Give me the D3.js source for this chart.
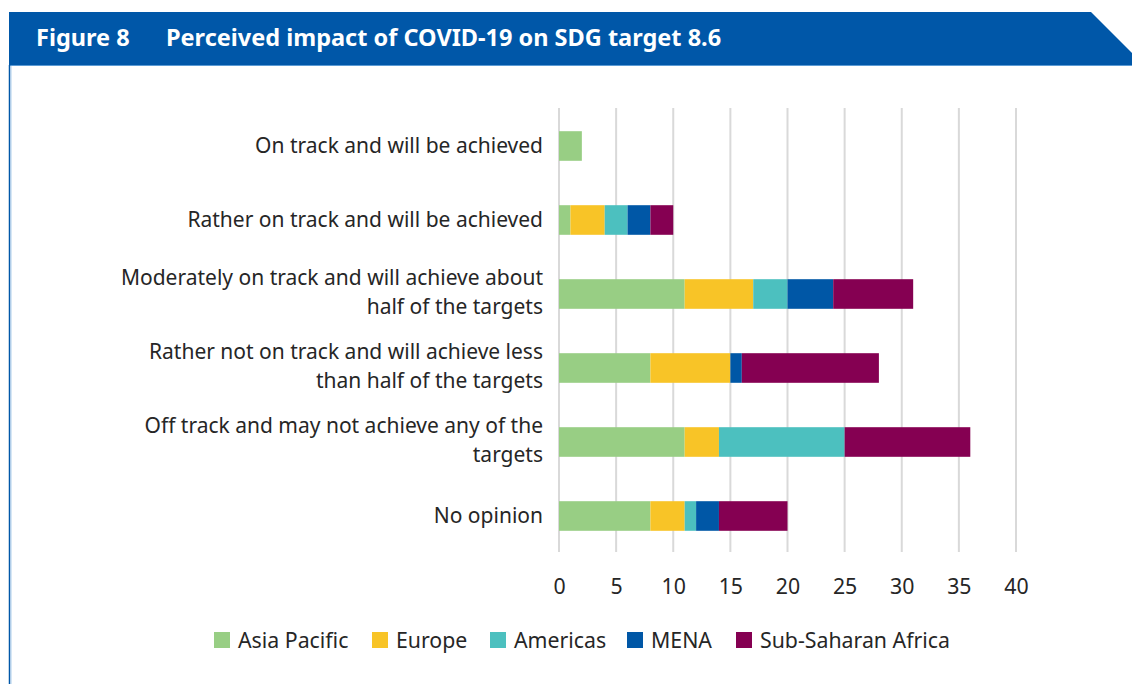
<!DOCTYPE html>
<html><head><meta charset="utf-8">
<script src="https://cdn.jsdelivr.net/npm/d3@7"></script>
<style>
body{margin:0;background:#fff;}
svg{display:block;font-family:"Noto Sans","Open Sans",sans-serif;}
</style></head>
<body><svg id="c" width="1132" height="684"></svg>
<script>
const categories = [
  ["On track and will be achieved"],
  ["Rather on track and will be achieved"],
  ["Moderately on track and will achieve about", "half of the targets"],
  ["Rather not on track and will achieve less", "than half of the targets"],
  ["Off track and may not achieve any of the", "targets"],
  ["No opinion"]
];
const seriesNames = ["Asia Pacific", "Europe", "Americas", "MENA", "Sub-Saharan Africa"];
const asiaPacific = [2, 1, 11, 8, 11, 8];
const europe      = [0, 3, 6, 7, 3, 3];
const americas    = [0, 2, 3, 0, 11, 1];
const mena        = [0, 2, 4, 1, 0, 2];
const ssa         = [0, 2, 7, 12, 11, 6];
const tickValues  = [0, 5, 10, 15, 20, 25, 30, 35, 40];
const colors = ["#98CE84", "#F8C427", "#4CC0BF", "#0057A6", "#850052"];

const svg = d3.select("#c");
const W = 1132, H = 684;

// header
svg.append("path")
  .attr("d", `M9,12 L1091,12 L1132,53 L1132,65 L9,65 Z`)
  .attr("fill", "#0057A8");
svg.append("line").attr("x1", 9).attr("x2", 1132).attr("y1", 65.5).attr("y2", 65.5)
  .attr("stroke", "#5b9bd5").attr("stroke-width", 1);
svg.append("line").attr("x1", 9.5).attr("x2", 9.5).attr("y1", 65).attr("y2", H)
  .attr("stroke", "#0057A8").attr("stroke-width", 1.5);
svg.append("line").attr("x1", 11).attr("x2", 11).attr("y1", 66).attr("y2", H)
  .attr("stroke", "#9cc3e6").attr("stroke-width", 0.8);
svg.append("text").attr("x", 36).attr("y", 46).attr("fill", "#fff")
  .attr("font-size", 23.5).attr("font-weight", "bold").text("Figure 8");
svg.append("text").attr("x", 166).attr("y", 46).attr("fill", "#fff")
  .attr("font-size", 23.5).attr("font-weight", "bold").text("Perceived impact of COVID-19 on SDG target 8.6");

// scales
const x = d3.scaleLinear().domain([0, 40]).range([559, 1016]);
const y = d3.scaleBand().domain(d3.range(categories.length)).range([109, 553]).paddingInner(0.6).paddingOuter(0.3);

// grid
svg.append("g").selectAll("line").data(tickValues).join("line")
  .attr("x1", d => x(d)).attr("x2", d => x(d))
  .attr("y1", 108).attr("y2", 552)
  .attr("stroke", "#d9d9d9").attr("stroke-width", 2);

// stacked data
const rows = categories.map((c, i) => ({
  "Asia Pacific": asiaPacific[i], "Europe": europe[i], "Americas": americas[i],
  "MENA": mena[i], "Sub-Saharan Africa": ssa[i]
}));
const stack = d3.stack().keys(seriesNames)(rows);
svg.append("g").selectAll("g").data(stack).join("g")
  .attr("fill", (d, i) => colors[i])
  .selectAll("rect").data(d => d.map((v, i) => ({v, i}))).join("rect")
  .attr("x", d => x(d.v[0]))
  .attr("width", d => x(d.v[1]) - x(d.v[0]))
  .attr("y", d => y(d.i))
  .attr("height", y.bandwidth());

// category labels
const lab = svg.append("g").attr("fill", "#262626").attr("font-size", 21).attr("text-anchor", "end");
categories.forEach((lines, i) => {
  const cy = y(i) + y.bandwidth() / 2;
  const n = lines.length, lh = 28.8;
  lines.forEach((s, j) => {
    const base = n === 1 ? cy + 6.5 : cy - 9 + j * lh;
    lab.append("text").attr("x", 543).attr("y", base).text(s);
  });
});

// x axis labels
const ax = d3.axisBottom(x).tickValues(tickValues).tickSize(0).tickPadding(0);
const axg = svg.append("g").attr("transform", "translate(0,583)").call(ax);
axg.select(".domain").remove();
axg.selectAll("text").attr("font-size", 21.3).attr("fill", "#262626")
  .attr("font-family", "'Noto Sans','Open Sans',sans-serif").attr("dy", "0.5em");

// legend
const legendX = [214, 372, 490, 627, 736];
const lg = svg.append("g").attr("font-size", 21.3).attr("fill", "#262626");
seriesNames.forEach((s, i) => {
  lg.append("rect").attr("x", legendX[i]).attr("y", 632).attr("width", 16).attr("height", 16).attr("fill", colors[i]);
  lg.append("text").attr("x", legendX[i] + 24).attr("y", 648).text(s);
});
</script></body></html>
